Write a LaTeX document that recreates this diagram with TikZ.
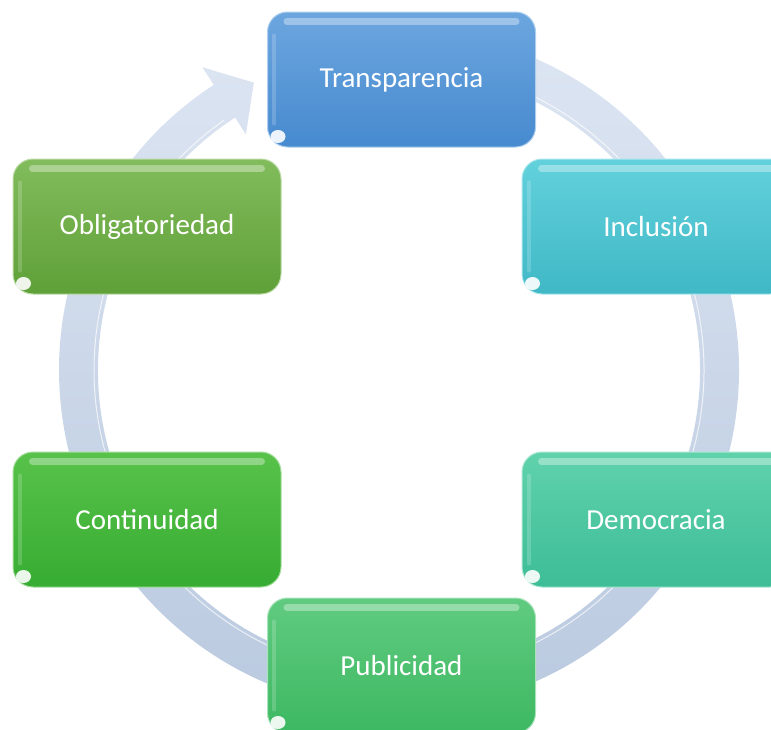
\documentclass[tikz,border=0pt]{standalone}
\usepackage{fontspec}
\setmainfont{Carlito}
\usetikzlibrary{calc}
\definecolor{ringtop}{HTML}{DEE6F3}
\definecolor{ringbot}{HTML}{B9C9DF}
\definecolor{tTop}{HTML}{6CA6DF}
\definecolor{tBot}{HTML}{478ACF}
\definecolor{iTop}{HTML}{62D1DC}
\definecolor{iBot}{HTML}{40B8C6}
\definecolor{dTop}{HTML}{60D2AC}
\definecolor{dBot}{HTML}{3DBD96}
\definecolor{pTop}{HTML}{60CB80}
\definecolor{pBot}{HTML}{3DB862}
\definecolor{cTop}{HTML}{58C24A}
\definecolor{cBot}{HTML}{37AC32}
\definecolor{oTop}{HTML}{82BC5C}
\definecolor{oBot}{HTML}{5FA038}
\tikzset{
  gbox/.style={rounded corners=20pt, minimum width=268pt, minimum height=135pt,
    inner sep=0pt, text=white, font=\fontsize{29}{34}\selectfont, line width=1pt},
}
\newcommand\gbox[6]{%
  \node[gbox, top color=#4, bottom color=#5, draw=#4!55!white] (#1) at (#2,#3) {\raisebox{-2pt}{#6}};
  \draw[white, opacity=0.35, line width=7pt, line cap=round]
    ([xshift=20pt,yshift=-10pt]#1.north west) -- ([xshift=-20pt,yshift=-10pt]#1.north east);
  \draw[white, opacity=0.18, line width=4pt, line cap=round]
    ([xshift=7pt,yshift=-24pt]#1.north west) -- ([xshift=7pt,yshift=24pt]#1.south west);
  \fill[white, opacity=0.9] ([xshift=11pt,yshift=11pt]#1.south west) ellipse (7.5pt and 6.5pt);
}
\begin{document}
\begin{tikzpicture}[x=1pt,y=1pt]
\useasboundingbox (0,0) rectangle (771,-729);
\clip (0,0) rectangle (771,-729);
\coordinate (C) at (399,-370);
% ring arrow
\path[top color=ringtop, bottom color=ringbot]
  ($(C)+(95:340)$) arc[start angle=95, end angle=-237, radius=340]
  -- ($(C)+(-237:361)$) -- ($(C)+(-243.2:322)$) -- ($(C)+(-237:281)$)
  -- ($(C)+(-237:301)$) arc[start angle=-237, end angle=95, radius=301] -- cycle;
\draw[white, opacity=0.7, line width=1pt] ($(C)+(95:305)$) arc[start angle=95, end angle=-235, radius=305];
% boxes
\gbox{T}{401.5}{-79.5}{tTop}{tBot}{Transparencia}
\gbox{I}{656}{-226.5}{iTop}{iBot}{Inclusión}
\gbox{D}{656}{-519.5}{dTop}{dBot}{Democracia}
\gbox{P}{401.5}{-665.5}{pTop}{pBot}{Publicidad}
\gbox{Co}{147}{-519.5}{cTop}{cBot}{Continuidad}
\gbox{O}{147}{-226.5}{oTop}{oBot}{Obligatoriedad}
\end{tikzpicture}
\end{document}
